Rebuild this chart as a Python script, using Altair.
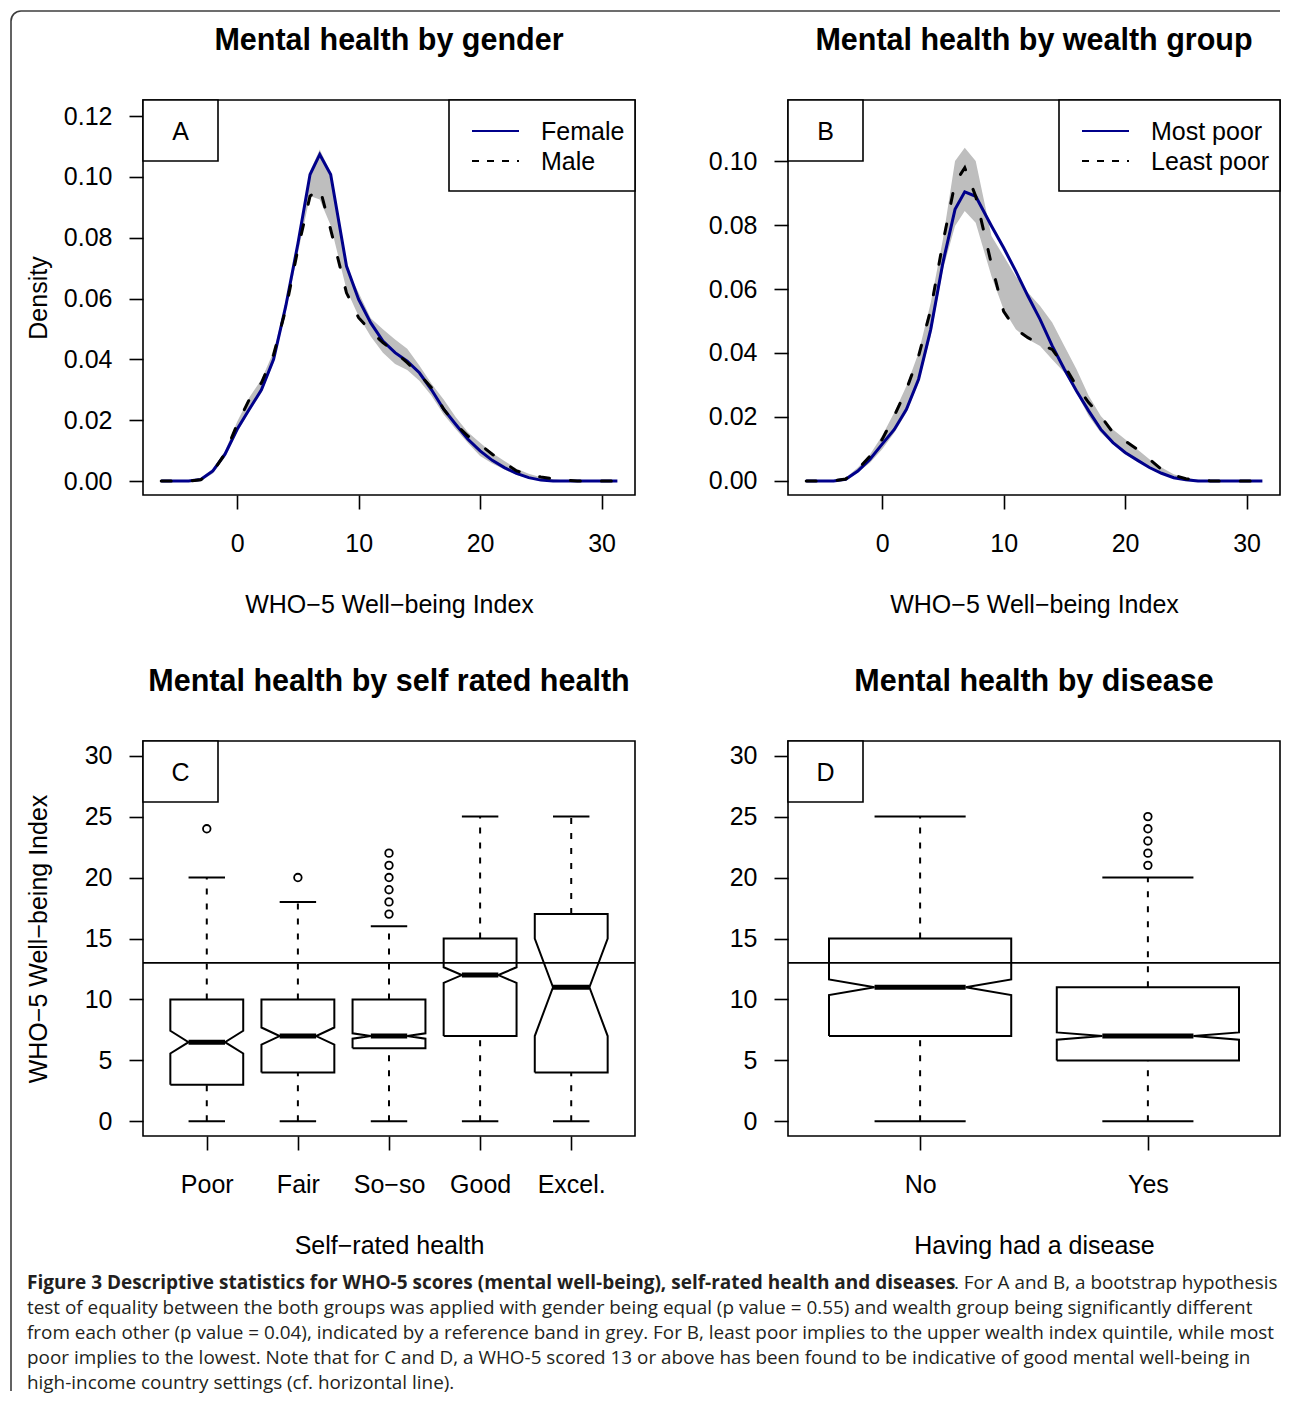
import json
import altair as alt
import pandas as pd

FONT = "Liberation Sans"
CAP_FONT = "Open Sans"
NAVY = "#00008B"
GREY = "#BEBEBE"
W, H = 492, 395

# ---------------- data ----------------
grid_x = [-6.25, -5, -4, -3, -2, -1, 0, 1, 2, 3, 4, 5, 6, 6.8, 7.7, 9, 10, 11, 12,
          13, 14, 15, 16, 17, 18, 19, 20, 21, 22, 23, 24, 25, 26, 27, 28, 29, 31.3]

female = [0, 0, 0, 0.0005, 0.0033, 0.0088, 0.017, 0.0236, 0.030, 0.040, 0.0575, 0.078,
          0.1008, 0.1074, 0.1008, 0.0707, 0.0597, 0.052, 0.046, 0.0422, 0.0394, 0.0356,
          0.030, 0.0236, 0.0186, 0.0137, 0.0099, 0.0068, 0.0044, 0.0025, 0.0011, 0.0003,
          0, 0, 0, 0, 0]
male = [0, 0, 0, 0.0004, 0.003, 0.009, 0.0186, 0.0268, 0.0323, 0.0416, 0.0564, 0.0762,
        0.0937, 0.0964, 0.0827, 0.0619, 0.0537, 0.0493, 0.0455, 0.0424, 0.0389, 0.0351,
        0.0307, 0.0236, 0.0186, 0.0148, 0.012, 0.0088, 0.006, 0.0033, 0.0022, 0.0013,
        0.0008, 0.0003, 0, 0, 0]
band_a_lo = [0, 0, 0, 0, 0.0025, 0.0078, 0.016, 0.0228, 0.029, 0.039, 0.0555, 0.075,
             0.0937, 0.0926, 0.084, 0.063, 0.0542, 0.0475, 0.0422, 0.0385, 0.0365, 0.033,
             0.028, 0.0219, 0.017, 0.0125, 0.0082, 0.0058, 0.0038, 0.002, 0.0008, 0.0002,
             0, 0, 0, 0, 0]
band_a_hi = [0, 0, 0, 0.001, 0.004, 0.0098, 0.0195, 0.0275, 0.0334, 0.0425, 0.0586, 0.079,
             0.1019, 0.109, 0.1014, 0.070, 0.0619, 0.0535, 0.0499, 0.0465, 0.0435, 0.038,
             0.032, 0.0268, 0.021, 0.016, 0.0126, 0.0092, 0.0066, 0.004, 0.0024, 0.0012,
             0.0006, 0.0002, 0, 0, 0]

most_poor = [0, 0, 0, 0.0005, 0.0031, 0.0068, 0.0115, 0.0161, 0.0224, 0.0318, 0.0474,
             0.0682, 0.0849, 0.0904, 0.089, 0.0797, 0.0729, 0.0656, 0.0578, 0.0505, 0.0422,
             0.0349, 0.0281, 0.0219, 0.0161, 0.012, 0.0089, 0.0065, 0.0042, 0.0024, 0.001,
             0.0004, 0, 0, 0, 0, 0]
least_poor = [0, 0, 0, 0.0006, 0.0036, 0.0078, 0.013, 0.0203, 0.0286, 0.039, 0.0536,
              0.0745, 0.0932, 0.0979, 0.089, 0.0677, 0.053, 0.0474, 0.0448, 0.0427, 0.0411,
              0.036, 0.0297, 0.0245, 0.0203, 0.0151, 0.0125, 0.0099, 0.0068, 0.0036, 0.0018,
              0.0007, 0.0003, 0, 0, 0, 0]
band_b_lo = [0, 0, 0, 0, 0.0026, 0.0057, 0.0099, 0.0151, 0.0214, 0.0307, 0.0453, 0.0661,
             0.0797, 0.0844, 0.0807, 0.064, 0.0536, 0.0474, 0.0443, 0.0422, 0.038, 0.0339,
             0.0276, 0.0203, 0.0151, 0.0115, 0.0083, 0.0063, 0.0039, 0.0021, 0.0008,
             0.0002, 0, 0, 0, 0, 0]
band_b_hi = [0, 0, 0, 0.001, 0.0042, 0.0083, 0.0141, 0.0214, 0.0297, 0.0401, 0.0557,
             0.0755, 0.100, 0.1042, 0.100, 0.0766, 0.0703, 0.064, 0.0589, 0.0547, 0.0495,
             0.0422, 0.0349, 0.0266, 0.0203, 0.0161, 0.013, 0.0099, 0.0068, 0.0042, 0.0021,
             0.001, 0.0004, 0, 0, 0, 0]

gender_names = ["Female", "Male"]
wealth_names = ["Most poor", "Least poor"]

srh_cats = ["Poor", "Fair", "So\u2212so", "Good", "Excel."]
srh_lo = [0, 0, 0, 0, 0]
srh_q1 = [3, 4, 6, 7, 4]
srh_med = [6.5, 7, 7, 12, 11]
srh_q3 = [10, 10, 10, 15, 17]
srh_hi = [20, 18, 16, 25, 25]
srh_notch = [0.93, 0.7, 0.22, 0.64, 4.0]
srh_out_cat = [1, 2, 3, 3, 3, 3, 3, 3]
srh_out_val = [24, 20, 17, 18, 19, 20, 21, 22]

dis_cats = ["No", "Yes"]
dis_lo = [0, 0]
dis_q1 = [7, 5]
dis_med = [11, 7]
dis_q3 = [15, 11]
dis_hi = [25, 20]
dis_notch = [0.64, 0.3]
dis_out_cat = [2, 2, 2, 2, 2]
dis_out_val = [21, 22, 23, 24, 25]

threshold = 13

caption_bold = ("Figure 3 Descriptive statistics for WHO-5 scores (mental well-being), "
                "self-rated health and diseases")
caption_lines = [
    ". For A and B, a bootstrap hypothesis",
    "test of equality between the both groups was applied with gender being equal (p value = 0.55) "
    "and wealth group being significantly different",
    "from each other (p value = 0.04), indicated by a reference band in grey. For B, least poor "
    "implies to the upper wealth index quintile, while most",
    "poor implies to the lowest. Note that for C and D, a WHO-5 scored 13 or above has been found "
    "to be indicative of good mental well-being in",
    "high-income country settings (cf. horizontal line).",
]

ONE = pd.DataFrame({"k": [0]})
MINUS = "\u2212"
WHO_TITLE = f"WHO{MINUS}5 Well{MINUS}being Index"


def letter_layers(letter):
    box = alt.Chart(ONE).mark_rect(fill="white", stroke="black", strokeWidth=1.6).encode(
        x=alt.value(0), x2=alt.value(75), y=alt.value(0), y2=alt.value(61))
    txt = alt.Chart(ONE).mark_text(text=letter, font=FONT, fontSize=25, align="center",
                                   baseline="alphabetic", color="black").encode(
        x=alt.value(37.5), y=alt.value(40))
    return [box, txt]


def legend_layers(names, box_x0, line_x0, text_x0):
    box = alt.Chart(ONE).mark_rect(fill="white", stroke="black", strokeWidth=1.6).encode(
        x=alt.value(box_x0), x2=alt.value(W), y=alt.value(0), y2=alt.value(91))
    l1 = alt.Chart(ONE).mark_rule(color=NAVY, strokeWidth=2).encode(
        x=alt.value(line_x0), x2=alt.value(line_x0 + 47), y=alt.value(31))
    l2 = alt.Chart(ONE).mark_rule(color="black", strokeWidth=2, strokeDash=[7, 8]).encode(
        x=alt.value(line_x0), x2=alt.value(line_x0 + 47), y=alt.value(61))
    t1 = alt.Chart(ONE).mark_text(text=names[0], font=FONT, fontSize=25, align="left",
                                  baseline="alphabetic", color="black").encode(
        x=alt.value(text_x0), y=alt.value(40))
    t2 = alt.Chart(ONE).mark_text(text=names[1], font=FONT, fontSize=25, align="left",
                                  baseline="alphabetic", color="black").encode(
        x=alt.value(text_x0), y=alt.value(70))
    return [box, l1, l2, t1, t2]


def density_panel(title, letter, names, s1, s2, lo, hi, ydom, yvals, ytitle, leg):
    df = pd.DataFrame({"x": grid_x, "s1": s1, "s2": s2, "lo": lo, "hi": hi})
    xs = alt.Scale(domain=[-7.75, 32.75], nice=False, zero=False)
    ys = alt.Scale(domain=ydom, nice=False, zero=False)
    xax = alt.Axis(values=[0, 10, 20, 30], format="d", title=WHO_TITLE,
                   labelBaseline="alphabetic", labelPadding=42, titleY=117,
                   titleBaseline="alphabetic")
    if ytitle:
        yax = alt.Axis(values=yvals, format=".2f", title=ytitle, labelPadding=17,
                       titleX=-97, titleY=H / 2, titleAngle=270, titleBaseline="alphabetic")
    else:
        yax = alt.Axis(values=yvals, format=".2f", title=None, labelPadding=17)
    X = alt.X("x:Q", scale=xs, axis=xax)
    band = alt.Chart(df).mark_area(color=GREY, opacity=1).encode(
        x=X, y=alt.Y("lo:Q", scale=ys, axis=yax), y2="hi:Q")
    line1 = alt.Chart(df).mark_line(color=NAVY, strokeWidth=3).encode(
        x=X, y=alt.Y("s1:Q", scale=ys, axis=yax))
    line2 = alt.Chart(df).mark_line(color="black", strokeWidth=3, strokeDash=[10, 21],
                                    strokeCap="round").encode(
        x=X, y=alt.Y("s2:Q", scale=ys, axis=yax))
    layers = [band, line1, line2] + letter_layers(letter) + legend_layers(names, *leg)
    return alt.layer(*layers).properties(width=W, height=H, title=title)


def box_panel(title, letter, cats, lo, q1, med, q3, hi, notch, out_cat, out_val,
              xdom, xtitle, ytitle):
    hw = 0.4
    poly, whisk, staple, medl = [], [], [], []
    for i in range(len(cats)):
        p = i + 1
        m, n = med[i], notch[i]
        pts = [(p - hw, q1[i]), (p - hw, m - n), (p - hw / 2, m), (p - hw, m + n),
               (p - hw, q3[i]), (p + hw, q3[i]), (p + hw, m + n), (p + hw / 2, m),
               (p + hw, m - n), (p + hw, q1[i]), (p - hw, q1[i])]
        for k, (x, y) in enumerate(pts):
            poly.append({"cat": cats[i], "k": k, "x": x, "y": y})
        whisk.append({"x": p, "y": q3[i], "y2": hi[i]})
        whisk.append({"x": p, "y": lo[i], "y2": q1[i]})
        staple.append({"x": p - hw / 2, "x2": p + hw / 2, "y": hi[i]})
        staple.append({"x": p - hw / 2, "x2": p + hw / 2, "y": lo[i]})
        medl.append({"x": p - hw / 2, "x2": p + hw / 2, "y": m})
    outs = pd.DataFrame({"x": out_cat, "y": out_val})
    ref = pd.DataFrame({"y": [threshold]})

    xs = alt.Scale(domain=xdom, nice=False, zero=False)
    ys = alt.Scale(domain=[-1.2, 31.2], nice=False, zero=False)
    expr = json.dumps(cats, ensure_ascii=False) + "[datum.value - 1]"
    xax = alt.Axis(values=list(range(1, len(cats) + 1)), labelExpr=expr, title=xtitle,
                   labelBaseline="alphabetic", labelPadding=42, titleY=117,
                   titleBaseline="alphabetic")
    if ytitle:
        yax = alt.Axis(values=[0, 5, 10, 15, 20, 25, 30], title=ytitle, labelPadding=17,
                       titleX=-97, titleY=H / 2, titleAngle=270, titleBaseline="alphabetic")
    else:
        yax = alt.Axis(values=[0, 5, 10, 15, 20, 25, 30], title=None, labelPadding=17)
    X = alt.X("x:Q", scale=xs, axis=xax)
    Y = alt.Y("y:Q", scale=ys, axis=yax)

    wl = alt.Chart(pd.DataFrame(whisk)).mark_rule(color="black", strokeWidth=2,
                                                  strokeDash=[6, 9]).encode(x=X, y=Y, y2="y2:Q")
    st = alt.Chart(pd.DataFrame(staple)).mark_rule(color="black", strokeWidth=2).encode(
        x=X, x2="x2:Q", y=Y)
    bx = alt.Chart(pd.DataFrame(poly)).mark_line(color="black", strokeWidth=2).encode(
        x=X, y=Y, detail="cat:N", order="k:Q")
    md = alt.Chart(pd.DataFrame(medl)).mark_rule(color="black", strokeWidth=5).encode(
        x=X, x2="x2:Q", y=Y)
    ot = alt.Chart(outs).mark_point(shape="circle", filled=False, size=57, strokeWidth=1.8,
                                    color="black", opacity=1).encode(x=X, y=Y)
    rl = alt.Chart(ref).mark_rule(color="black", strokeWidth=1.8).encode(y=Y)
    layers = [wl, st, bx, md, ot, rl] + letter_layers(letter)
    return alt.layer(*layers).properties(width=W, height=H, title=title)


pA = density_panel("Mental health by gender", "A", gender_names, female, male,
                   band_a_lo, band_a_hi, [-0.0046, 0.1253],
                   [0, 0.02, 0.04, 0.06, 0.08, 0.10, 0.12], "Density", (306, 329, 398))
pB = density_panel("Mental health by wealth group", "B", wealth_names, most_poor, least_poor,
                   band_b_lo, band_b_hi, [-0.0044, 0.1191],
                   [0, 0.02, 0.04, 0.06, 0.08, 0.10], None, (271, 294, 363))
pC = box_panel("Mental health by self rated health", "C", srh_cats, srh_lo, srh_q1, srh_med,
               srh_q3, srh_hi, srh_notch, srh_out_cat, srh_out_val, [0.3, 5.7],
               f"Self{MINUS}rated health", WHO_TITLE)
pD = box_panel("Mental health by disease", "D", dis_cats, dis_lo, dis_q1, dis_med, dis_q3,
               dis_hi, dis_notch, dis_out_cat, dis_out_val, [0.42, 2.58],
               "Having had a disease", None)

# ---------------- caption + outer frame (origin = page (142, 1381)) ----------------
cap_df = pd.DataFrame({
    "row": [0, 0, 1, 2, 3, 4],
    "px": [-116, 811, -116, -116, -116, -116],
    "text": [caption_bold] + caption_lines,
    "bold": [1, 0, 0, 0, 0, 0],
})
cx = alt.X("px:Q", scale=alt.Scale(domain=[0, 1000], range=[0, 1000]), axis=None)
cy = alt.Y("row:Q", scale=alt.Scale(domain=[0, 4], range=[-93, 7]), axis=None)
cap_bold = alt.Chart(cap_df).transform_filter("datum.bold == 1").mark_text(
    align="left", baseline="alphabetic", font=CAP_FONT, fontSize=19, fontWeight="bold",
    color="#231F20").encode(x=cx, y=cy, text="text:N")
cap_norm = alt.Chart(cap_df).transform_filter("datum.bold == 0").mark_text(
    align="left", baseline="alphabetic", font=CAP_FONT, fontSize=18.9,
    color="#231F20").encode(x=cx, y=cy, text="text:N")

FR = "#3c3c3c"
fr_top = alt.Chart(ONE).mark_rule(color=FR, strokeWidth=1.6).encode(
    x=alt.value(-122), x2=alt.value(1137), y=alt.value(-1371))
fr_left = alt.Chart(ONE).mark_rule(color=FR, strokeWidth=1.6).encode(
    x=alt.value(-132), y=alt.value(-1361), y2=alt.value(9))
fr_tl = alt.Chart(ONE).mark_arc(radius=10.8, radius2=9.2, theta=4.7124, theta2=6.2832,
                                color=FR).encode(x=alt.value(-122), y=alt.value(-1361))

caption = alt.layer(fr_top, fr_left, fr_tl, cap_bold, cap_norm).properties(
    width=W, height=1, view=alt.ViewBackground(stroke="transparent"))

chart = alt.concat(
    pA, pB, pC, pD, caption, columns=2,
    spacing={"row": 246, "column": 153}, bounds="flush"
).properties(
    padding={"left": 1, "top": 1, "right": 0, "bottom": 0},
    background="white",
).configure_view(
    stroke="black", strokeWidth=1.6
).configure_axis(
    domain=False, grid=False, tickColor="black", tickWidth=1.6, tickSize=14,
    labelFont=FONT, labelFontSize=25, labelColor="black", labelFlush=False,
    labelOverlap=False, titleFont=FONT, titleFontSize=25, titleFontWeight="normal",
    titleColor="black"
).configure_title(
    font=FONT, fontSize=30.5, fontWeight="bold", color="black", anchor="middle",
    frame="group", offset=43
)

chart.save("out.html", embed_options={"renderer": "svg", "actions": False})
